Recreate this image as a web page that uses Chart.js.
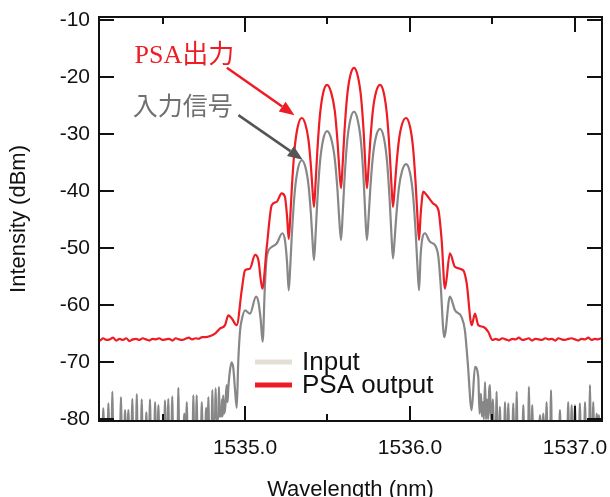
<!DOCTYPE html>
<html>
<head>
<meta charset="utf-8">
<script src="https://cdn.jsdelivr.net/npm/chart.js@4.4.1/dist/chart.umd.min.js"></script>
<style>
  html, body { margin: 0; padding: 0; background: #fff; }
  canvas { display: block; }
</style>
</head>
<body>
<canvas id="spectrum" width="610" height="497"></canvas>
<script>
// axis ticks
const xTicks = [1534.5, 1535.0, 1535.5, 1536.0, 1536.5, 1537.0];
const yTicks = [-80, -70, -60, -50, -40, -30, -20, -10];

// PSA output spectrum (nm / dBm)
const psaNm = [
  1534.10,1534.12,1534.14,1534.16,1534.18,1534.20,1534.22,1534.24,1534.26,1534.28,
  1534.30,1534.32,1534.34,1534.36,1534.38,1534.40,1534.42,1534.44,1534.46,1534.48,
  1534.50,1534.52,1534.54,1534.56,1534.58,1534.60,1534.62,1534.64,1534.66,1534.68,
  1534.70,1534.72,1534.74,
  1534.76,1534.79,1534.818,1534.848,1534.879,1534.899,1534.919,1534.950,1534.980,1535.000,
  1535.030,1535.061,1535.081,1535.105,1535.132,1535.162,1535.192,1535.222,1535.242,1535.255,
  1535.265,
  1535.275,1535.285,1535.301,1535.320,1535.344,1535.366,1535.385,1535.400,1535.409,1535.418,
  1535.428,1535.438,1535.454,1535.473,1535.497,1535.522,1535.544,1535.561,1535.571,1535.582,
  1535.592,1535.602,1535.618,1535.637,1535.661,1535.684,1535.704,1535.720,1535.729,1535.739,
  1535.749,1535.759,1535.775,1535.794,1535.818,1535.842,1535.861,1535.877,1535.887,1535.897,
  1535.907,1535.917,1535.933,1535.952,1535.976,1536.000,1536.019,1536.035,1536.045,1536.055,
  1536.065,1536.081,1536.101,1536.141,1536.172,1536.192,1536.212,1536.242,1536.273,1536.323,
  1536.344,1536.374,1536.394,1536.414,1536.444,1536.475,1536.499,
  1536.52,1536.54,1536.56,1536.58,1536.60,1536.62,1536.64,1536.66,1536.68,1536.70,
  1536.72,1536.74,1536.76,1536.78,1536.80,1536.82,1536.84,1536.86,1536.88,1536.90,
  1536.92,1536.94,1536.96,1536.98,1537.00,1537.02,1537.04,1537.06,1537.08,1537.10,
  1537.12,1537.14,1537.16,1537.18
];
const psaDbm = [
  -65.9,-66.2,-65.8,-66.1,-66.0,-65.7,-66.2,-65.9,-66.1,-65.8,
  -66.3,-66.0,-65.9,-66.1,-65.8,-66.0,-66.2,-65.9,-66.0,-65.8,
  -66.1,-66.0,-65.9,-66.2,-65.8,-66.0,-66.1,-65.9,-65.7,-66.0,
  -65.8,-65.9,-65.6,
  -65.6,-65.4,-65.0,-64.1,-63.5,-61.8,-62.3,-63.5,-57.4,-53.9,
  -53.6,-51.2,-52.1,-57.1,-49.8,-42.5,-41.9,-40.4,-41.0,-44.5,
  -48.4,
  -44.2,-38.9,-32.5,-28.7,-27.2,-28.3,-31.1,-35.8,-39.7,-42.8,
  -38.5,-33.2,-26.8,-22.9,-21.4,-22.7,-25.9,-31.4,-35.9,-39.5,
  -35.3,-30.0,-23.7,-19.9,-18.4,-19.9,-23.7,-30.0,-35.3,-39.5,
  -35.9,-31.4,-25.9,-22.7,-21.4,-22.9,-26.8,-33.2,-38.5,-42.8,
  -39.7,-35.8,-31.1,-28.3,-27.2,-28.7,-32.5,-39.0,-44.3,-48.6,
  -44.0,-40.1,-40.7,-42.2,-43.3,-48.6,-57.1,-50.9,-53.3,-53.9,
  -56.2,-63.5,-61.5,-63.5,-63.8,-64.7,-66.1,
  -65.9,-66.1,-65.8,-66.0,-66.2,-65.9,-66.0,-65.7,-66.1,-66.0,
  -65.8,-66.2,-65.9,-66.0,-66.1,-65.8,-66.0,-65.9,-66.2,-65.8,
  -66.0,-66.1,-65.9,-65.8,-66.0,-66.2,-65.9,-66.0,-65.7,-66.1,
  -65.9,-66.0,-65.8,-66.0
];

// input signal spectrum (nm / dBm)
const inputNm = [
  1534.100,1534.137,1534.141,1534.145,1534.168,1534.172,1534.176,1534.192,1534.196,1534.200,
  1534.244,1534.248,1534.252,1534.269,1534.273,1534.277,1534.289,1534.293,1534.297,1534.313,
  1534.317,1534.321,1534.340,1534.344,1534.348,1534.370,1534.374,1534.378,1534.399,1534.402,
  1534.405,1534.420,1534.424,1534.428,1534.451,1534.455,1534.459,1534.471,1534.475,1534.479,
  1534.511,1534.515,1534.519,1534.531,1534.535,1534.539,1534.555,1534.559,1534.563,1534.592,
  1534.596,1534.600,1534.628,1534.632,1534.636,1534.643,1534.647,1534.651,1534.683,1534.687,
  1534.691,1534.703,1534.707,1534.711,1534.734,1534.738,1534.742,1534.760,1534.764,1534.768,
  1534.774,1534.778,1534.782,1534.798,1534.802,1534.806,1534.818,1534.822,1534.826,1534.838,
  1534.842,1534.846,1534.856,1534.860,1534.864,1534.868,1534.872,1534.880,1534.884,1534.889,
  1534.894,1534.899,1534.909,1534.919,1534.929,1534.940,1534.950,1534.959,1534.970,
  1534.980,1535.000,1535.030,1535.067,1535.081,1535.095,1535.107,1535.120,1535.132,1535.162,
  1535.192,1535.226,1535.242,1535.255,1535.265,
  1535.275,1535.285,1535.301,1535.320,1535.344,1535.366,1535.385,1535.400,1535.409,1535.418,
  1535.428,1535.438,1535.454,1535.473,1535.497,1535.522,1535.544,1535.561,1535.571,1535.582,
  1535.592,1535.602,1535.618,1535.637,1535.661,1535.684,1535.704,1535.720,1535.729,1535.739,
  1535.749,1535.759,1535.775,1535.794,1535.818,1535.842,1535.861,1535.877,1535.887,1535.897,
  1535.907,1535.917,1535.933,1535.952,1535.976,1536.000,1536.019,1536.035,1536.045,1536.055,
  1536.065,1536.091,1536.121,1536.152,1536.172,1536.185,1536.208,1536.242,1536.273,1536.313,
  1536.333,1536.350,1536.374,1536.394,1536.414,
  1536.422,1536.430,1536.436,1536.442,1536.448,1536.455,1536.461,1536.467,1536.474,1536.480,
  1536.485,1536.490,1536.496,1536.503,1536.508,1536.521,1536.525,1536.529,1536.541,1536.545,
  1536.549,1536.572,1536.576,1536.580,1536.592,1536.596,1536.600,1536.622,1536.626,1536.630,
  1536.643,1536.647,1536.651,1536.683,1536.687,1536.691,1536.717,1536.721,1536.725,1536.737,
  1536.741,1536.745,1536.784,1536.788,1536.792,1536.804,1536.808,1536.812,1536.824,1536.828,
  1536.832,1536.851,1536.855,1536.859,1536.905,1536.909,1536.913,1536.955,1536.959,1536.963,
  1536.976,1536.980,1536.984,1536.996,1537.000,1537.004,1537.026,1537.030,1537.034,1537.057,
  1537.061,1537.065,1537.087,1537.091,1537.095,1537.107,1537.111,1537.115,1537.128,1537.132,
  1537.136,1537.141,1537.145,1537.149,1537.180
];
const inputDbm = [
  -81,-81,-78.1,-81,-81,-77.2,-81,-81,-75.2,-81,
  -81,-76.1,-81,-81,-78.4,-81,-81,-78.4,-81,-81,
  -76.4,-81,-81,-75.6,-81,-81,-76.5,-81,-81,-78.8,
  -81,-81,-76.5,-81,-81,-77.0,-81,-81,-77.5,-81,
  -81,-76.7,-81,-81,-76.4,-81,-81,-76.0,-81,-81,
  -74.5,-81,-81,-79.0,-81,-81,-77.0,-81,-81,-75.8,
  -81,-81,-75.8,-81,-81,-77.0,-81,-81,-78.0,-81,
  -81,-76.1,-81,-81,-74.9,-80,-80,-74.6,-80,-80,
  -74.3,-79.5,-79.5,-76.5,-79.5,-75.8,-79,-78,-76,-74.0,
  -77,-74.5,-71.4,-70.0,-71.0,-75.0,-78.0,-70.0,-64.5,
  -62.6,-60.9,-61.5,-58.5,-59.4,-62.5,-66.4,-57.0,-51.5,-49.8,
  -49.2,-47.4,-48.6,-52.5,-57.4,
  -52.8,-47.1,-40.3,-36.2,-34.6,-35.8,-39.0,-44.2,-48.6,-52.1,
  -47.6,-41.9,-35.1,-31.1,-29.5,-30.8,-34.3,-40.0,-44.8,-48.6,
  -44.1,-38.5,-31.7,-27.7,-26.1,-27.7,-31.7,-38.5,-44.1,-48.6,
  -44.7,-39.8,-34.0,-30.5,-29.1,-30.7,-34.8,-41.6,-47.3,-51.8,
  -48.5,-44.4,-39.4,-36.5,-35.3,-36.8,-40.8,-47.5,-53.0,-57.4,
  -51.0,-47.4,-48.9,-49.5,-51.5,-56.0,-65.6,-58.5,-60.9,-62.1,
  -64.4,-70.0,-78.4,-70.8,-72.6,
  -79.0,-75.5,-79.5,-77.0,-80,-73.5,-80,-76.5,-80,-75.0,
  -74.0,-80,-79.0,-76.5,-81,-81,-75.2,-81,-81,-77.8,
  -81,-81,-77.0,-81,-81,-77.2,-81,-81,-77.2,-81,
  -81,-75.2,-81,-81,-77.5,-81,-81,-74.3,-81,-81,
  -77.5,-81,-81,-79.3,-81,-81,-79.0,-81,-81,-77.0,
  -81,-81,-74.9,-81,-81,-78.4,-81,-81,-77.0,-81,
  -81,-77.5,-81,-81,-77.5,-81,-81,-77.2,-81,-81,
  -77.0,-81,-81,-74.0,-81,-81,-77.0,-81,-81,-79.0,
  -81,-81,-79.3,-81,-81
];

const seriesLabels = ['PSA output', 'Input'];
const RED = '#ee1c24';
const GREY = '#878787';
const axisFont = 'Arial, "Liberation Sans", Helvetica, sans-serif';

const toPoints = (xs, ys) => xs.map((x, i) => ({x: x, y: ys[i]}));

// callouts, placed in data units
const notes = [
  {text: 'PSA出力', nm: 1534.33, db: -16.3, color: RED,
   font: '26px "Liberation Serif", "Times New Roman", "Noto Sans CJK JP", serif'},
  {text: '入力信号', nm: 1534.32, db: -25.0, color: '#707070',
   font: '25px "Noto Sans CJK JP", sans-serif'}
];
const arrows = [
  {from: [1534.89, -18.4], to: [1535.30, -26.7], color: RED},
  {from: [1534.96, -26.7], to: [1535.35, -34.5], color: '#555555'}
];
const legendSwatch = ['#e3dfd3', RED]; // Input, PSA output

// keep the plot box fixed: no extra room for overhanging tick labels
const noOverhang = s => {
  s.paddingLeft = 0; s.paddingRight = 0; s.paddingTop = 0; s.paddingBottom = 0;
};

const frame = {
  id: 'frame',
  afterDatasetsDraw(chart) {
    const {ctx, chartArea: a, scales: {x, y}} = chart;
    ctx.save();
    ctx.strokeStyle = '#111';
    ctx.lineWidth = 2;
    ctx.strokeRect(a.left, a.top, a.right - a.left, a.bottom - a.top);
    ctx.beginPath();
    xTicks.forEach(v => {
      const px = Math.round(x.getPixelForValue(v));
      const len = Number.isInteger(v) ? 15 : 7;
      ctx.moveTo(px, a.bottom); ctx.lineTo(px, a.bottom - len);
      ctx.moveTo(px, a.top); ctx.lineTo(px, a.top + len);
    });
    yTicks.forEach(v => {
      const py = Math.round(y.getPixelForValue(v));
      ctx.moveTo(a.left, py); ctx.lineTo(a.left + 15, py);
      ctx.moveTo(a.right, py); ctx.lineTo(a.right - 15, py);
    });
    ctx.stroke();
    ctx.restore();
  },
  afterDraw(chart) {
    const {ctx, chartArea: a, scales: {x, y}} = chart;
    ctx.save();
    // callout text
    notes.forEach(n => {
      ctx.font = n.font;
      ctx.fillStyle = n.color;
      ctx.textAlign = 'left';
      ctx.textBaseline = 'middle';
      ctx.fillText(n.text, x.getPixelForValue(n.nm), y.getPixelForValue(n.db));
    });
    // arrows
    arrows.forEach(ar => {
      const x0 = x.getPixelForValue(ar.from[0]), y0 = y.getPixelForValue(ar.from[1]);
      const x1 = x.getPixelForValue(ar.to[0]), y1 = y.getPixelForValue(ar.to[1]);
      const ang = Math.atan2(y1 - y0, x1 - x0);
      const head = 15, half = 6;
      const bx = x1 - head * Math.cos(ang), by = y1 - head * Math.sin(ang);
      ctx.strokeStyle = ar.color;
      ctx.fillStyle = ar.color;
      ctx.lineWidth = 2.5;
      ctx.beginPath();
      ctx.moveTo(x0, y0); ctx.lineTo(bx, by);
      ctx.stroke();
      ctx.beginPath();
      ctx.moveTo(x1, y1);
      ctx.lineTo(bx + half * Math.sin(ang), by - half * Math.cos(ang));
      ctx.lineTo(bx - half * Math.sin(ang), by + half * Math.cos(ang));
      ctx.closePath();
      ctx.fill();
    });
    // legend inside the plot
    const rows = [
      {label: chart.data.datasets[1].label, color: legendSwatch[0]},
      {label: chart.data.datasets[0].label, color: legendSwatch[1]}
    ];
    ctx.font = '26px ' + axisFont;
    ctx.textBaseline = 'middle';
    rows.forEach((r, i) => {
      const ry = a.top + 345 + i * 23;
      ctx.strokeStyle = r.color;
      ctx.lineWidth = 5;
      ctx.beginPath();
      ctx.moveTo(a.left + 156, ry); ctx.lineTo(a.left + 193, ry);
      ctx.stroke();
      ctx.fillStyle = '#111';
      ctx.fillText(r.label, a.left + 203, ry + 1);
    });
    ctx.restore();
  }
};

new Chart(document.getElementById('spectrum'), {
  type: 'line',
  data: {
    datasets: [
      {
        label: seriesLabels[0],
        data: toPoints(psaNm, psaDbm),
        borderColor: RED,
        borderWidth: 2.2,
        pointRadius: 0,
        cubicInterpolationMode: 'monotone',
        fill: false
      },
      {
        label: seriesLabels[1],
        data: toPoints(inputNm, inputDbm),
        borderColor: GREY,
        borderWidth: 2.2,
        pointRadius: 0,
        cubicInterpolationMode: 'monotone',
        fill: false
      }
    ]
  },
  options: {
    responsive: false,
    animation: false,
    layout: {padding: {top: 17, right: 8, left: 0, bottom: 0}},
    plugins: {legend: {display: false}, tooltip: {enabled: false}},
    scales: {
      x: {
        type: 'linear',
        min: 1534.115,
        max: 1537.164,
        grid: {display: false, drawTicks: false},
        border: {display: false},
        afterBuildTicks: s => { s.ticks = xTicks.map(v => ({value: v})); },
        afterFit: s => { s.height = 76; noOverhang(s); },
        ticks: {
          autoSkip: false, maxRotation: 0, padding: 15, color: '#111',
          font: {family: axisFont, size: 21},
          callback: v => Number.isInteger(v) ? v.toFixed(1) : ''
        },
        title: {
          display: true, text: 'Wavelength (nm)', color: '#111',
          font: {family: axisFont, size: 22}, padding: {top: 0, bottom: -6}
        }
      },
      y: {
        min: -80.3,
        max: -9.5,
        grid: {display: false, drawTicks: false},
        border: {display: false},
        afterBuildTicks: s => { s.ticks = yTicks.map(v => ({value: v})); },
        afterFit: s => { s.width = 99; noOverhang(s); },
        ticks: {padding: 9, color: '#111', font: {family: axisFont, size: 21}, callback: v => String(v)},
        title: {
          display: true, text: 'Intensity (dBm)', color: '#111',
          font: {family: axisFont, size: 22}, padding: {top: 6, bottom: 0}
        }
      }
    }
  },
  plugins: [frame]
});
</script>
</body>
</html>
